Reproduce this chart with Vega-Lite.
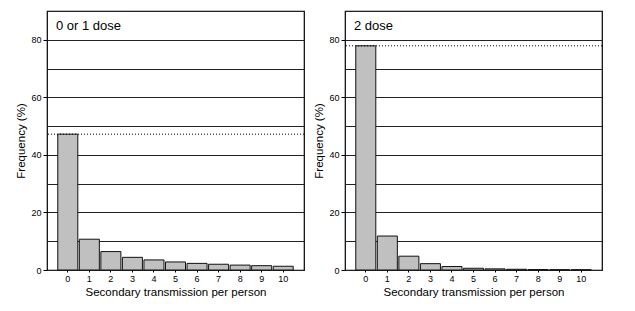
{
  "$schema": "https://vega.github.io/schema/vega-lite/v6.json",
  "padding": {"left": 15, "top": 9, "right": 5, "bottom": 5},
  "background": "white",
  "spacing": 7,
  "config": {
    "font": "Liberation Sans",
    "view": {"stroke": "#000000", "strokeWidth": 1.2},
    "title": {"font": "Liberation Sans", "fontSize": 13, "fontWeight": "normal", "anchor": "start", "orient": "top", "frame": "group", "offset": -22, "dx": 9, "color": "#000000"},
    "axis": {"labelFont": "Liberation Sans", "titleFont": "Liberation Sans", "labelFontSize": 9, "titleFontSize": 11.5, "titleFontWeight": "normal", "labelColor": "#000000", "titleColor": "#000000", "domainColor": "#000000", "tickColor": "#000000"}
  },
  "datasets": {
    "a": [
      {"k": "0", "freq": 47.2}, {"k": "1", "freq": 10.7}, {"k": "2", "freq": 6.4}, {"k": "3", "freq": 4.4},
      {"k": "4", "freq": 3.5}, {"k": "5", "freq": 2.8}, {"k": "6", "freq": 2.3}, {"k": "7", "freq": 2.0},
      {"k": "8", "freq": 1.7}, {"k": "9", "freq": 1.5}, {"k": "10", "freq": 1.3}
    ],
    "b": [
      {"k": "0", "freq": 77.9}, {"k": "1", "freq": 11.8}, {"k": "2", "freq": 4.8}, {"k": "3", "freq": 2.2},
      {"k": "4", "freq": 1.2}, {"k": "5", "freq": 0.6}, {"k": "6", "freq": 0.4}, {"k": "7", "freq": 0.25},
      {"k": "8", "freq": 0.15}, {"k": "9", "freq": 0.1}, {"k": "10", "freq": 0.08}
    ]
  },
  "hconcat": [
    {
      "title": "0 or 1 dose",
      "width": 257, "height": 259,
      "data": {"name": "a"},
      "layer": [
        {
          "mark": {"type": "bar", "fill": "#c0c0c0", "stroke": "#111111", "strokeWidth": 1},
          "encoding": {
            "x": {"field": "k", "type": "ordinal", "sort": null, "scale": {"paddingInner": 0.07, "paddingOuter": 0.5},
                  "axis": {"title": "Secondary transmission per person", "labelAngle": 0, "ticks": true, "tickSize": 2, "labelPadding": 2, "titlePadding": 3, "domain": false}},
            "y": {"field": "freq", "type": "quantitative", "scale": {"domain": [0, 90], "nice": false},
                  "axis": {"title": "Frequency (%)", "tickCount": 9,
                           "labelExpr": "datum.value % 20 == 0 && datum.value < 90 ? datum.label : ''",
                           "tickSize": {"condition": {"test": "datum.value % 20 == 0 && datum.value < 90", "value": 4}, "value": 0},
                           "labelPadding": 2, "titlePadding": 4,
                           "grid": true, "gridColor": "#222222", "gridWidth": 1, "gridOpacity": 1, "domain": false}}
          }
        },
        {
          "mark": {"type": "rule", "strokeDash": [1, 2], "color": "#000000", "strokeWidth": 1},
          "encoding": {"y": {"aggregate": "max", "field": "freq", "type": "quantitative"}}
        }
      ]
    },
    {
      "title": "2 dose",
      "width": 257, "height": 259,
      "data": {"name": "b"},
      "layer": [
        {
          "mark": {"type": "bar", "fill": "#c0c0c0", "stroke": "#111111", "strokeWidth": 1},
          "encoding": {
            "x": {"field": "k", "type": "ordinal", "sort": null, "scale": {"paddingInner": 0.07, "paddingOuter": 0.5},
                  "axis": {"title": "Secondary transmission per person", "labelAngle": 0, "ticks": true, "tickSize": 2, "labelPadding": 2, "titlePadding": 3, "domain": false}},
            "y": {"field": "freq", "type": "quantitative", "scale": {"domain": [0, 90], "nice": false},
                  "axis": {"title": "Frequency (%)", "tickCount": 9,
                           "labelExpr": "datum.value % 20 == 0 && datum.value < 90 ? datum.label : ''",
                           "tickSize": {"condition": {"test": "datum.value % 20 == 0 && datum.value < 90", "value": 4}, "value": 0},
                           "labelPadding": 2, "titlePadding": 4,
                           "grid": true, "gridColor": "#222222", "gridWidth": 1, "gridOpacity": 1, "domain": false}}
          }
        },
        {
          "mark": {"type": "rule", "strokeDash": [1, 2], "color": "#000000", "strokeWidth": 1},
          "encoding": {"y": {"aggregate": "max", "field": "freq", "type": "quantitative"}}
        }
      ]
    }
  ]
}
